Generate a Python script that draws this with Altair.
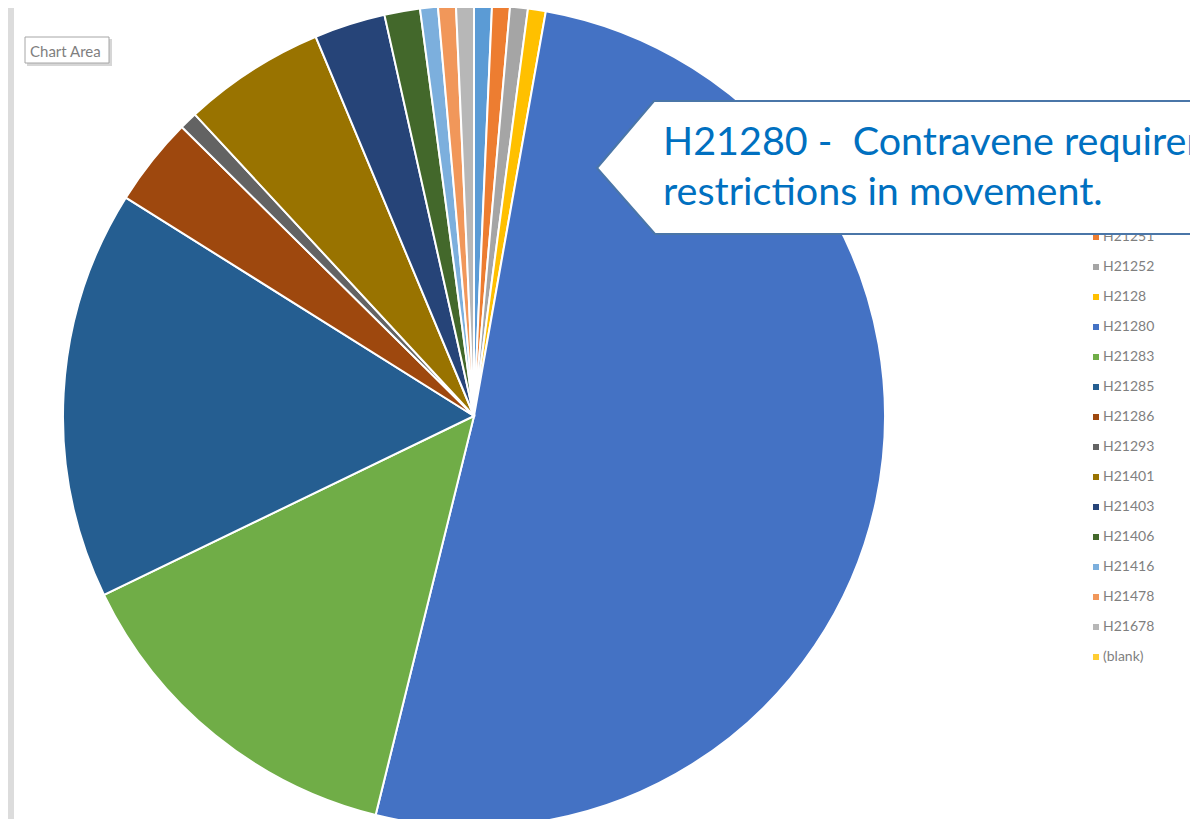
import altair as alt
import pandas as pd

# ---- data ----
categories = ["H21250", "H21251", "H21252", "H2128", "H21280", "H21283", "H21285",
              "H21286", "H21293", "H21401", "H21403", "H21406", "H21416", "H21478",
              "H21678", "(blank)"]
counts = [1, 1, 1, 1, 73, 20, 23, 5, 1, 8, 4, 2, 1, 1, 1, 0]
colors = ["#5B9BD5", "#ED7D31", "#A5A5A5", "#FFC000", "#4472C4", "#70AD47", "#255E91",
          "#9E480E", "#636363", "#997300", "#264478", "#43682B", "#7CAFDD", "#F1975A",
          "#B7B7B7", "#FFCD33"]
callout_text = "H21280 -\u00a0 Contravene requirements\nrestrictions in movement."
tooltip_text = "Chart Area"

df = pd.DataFrame({"cat": categories, "count": counts, "ord": list(range(len(categories)))})

color = alt.Color("cat:N", scale=alt.Scale(domain=categories, range=colors), legend=None)
base = alt.Chart(df)

one = pd.DataFrame({"k": [0]})

strip = alt.Chart(one).mark_rect(color="#DCDCDC").encode(
    x=alt.value(0), x2=alt.value(6), y=alt.value(0), y2=alt.value(811))

pie = base.mark_arc(outerRadius=411, stroke="white", strokeWidth=2).encode(
    theta=alt.Theta("count:Q", stack=True),
    order=alt.Order("ord:Q"),
    color=color,
    x=alt.value(466), y=alt.value(408),
)

ypos = alt.Y("ord:Q", scale=alt.Scale(domain=[0, 15], range=[199, 649]), axis=None)
leg_sym = base.mark_square(size=36, opacity=1).encode(
    x=alt.value(1088), y=ypos, color=color)
leg_txt = base.mark_text(align="left", baseline="middle", fontSize=14, font="Lato",
                         color="#7F7F7F").encode(x=alt.value(1095), y=ypos, text="cat:N")

callout_shape = "M 0 0 L 57 -67 L 700 -67 L 700 66 L 58 66 Z"
callout = alt.Chart(one).mark_point(
    shape=callout_shape, size=4, filled=True, fill="white", stroke="#4A76A8",
    strokeWidth=2, opacity=1, fillOpacity=1, strokeOpacity=1).encode(
    x=alt.value(589), y=alt.value(160))

callout_df = pd.DataFrame({"t": [callout_text]})
callout_txt = alt.Chart(callout_df).mark_text(
    align="left", baseline="alphabetic", font="Lato", fontSize=39.5, color="#0070C0",
    lineBreak="\n", lineHeight=50).encode(
    x=alt.value(655), y=alt.value(147), text="t:N")

tip_df = pd.DataFrame({"t": [tooltip_text]})
tip_shadow = alt.Chart(one).mark_rect(color="#C4C4C4", opacity=0.7).encode(
    x=alt.value(19), x2=alt.value(104), y=alt.value(31), y2=alt.value(58))
tip_box = alt.Chart(one).mark_rect(fill="white", stroke="#A6A6A6", strokeWidth=1).encode(
    x=alt.value(17), x2=alt.value(101), y=alt.value(29), y2=alt.value(55))
tip_txt = alt.Chart(tip_df).mark_text(
    align="left", baseline="alphabetic", font="Lato", fontSize=15, color="#7F7F7F").encode(
    x=alt.value(22), y=alt.value(49), text="t:N")

chart = alt.layer(strip, pie, leg_sym, leg_txt, callout, callout_txt,
                  tip_shadow, tip_box, tip_txt).properties(
    width=1182, height=811,
    autosize=alt.AutoSizeParams(type="none"),
    padding=0,
    background="white",
).configure_view(stroke=None)

chart.save("out.html", embed_options={"renderer": "svg", "actions": False})
